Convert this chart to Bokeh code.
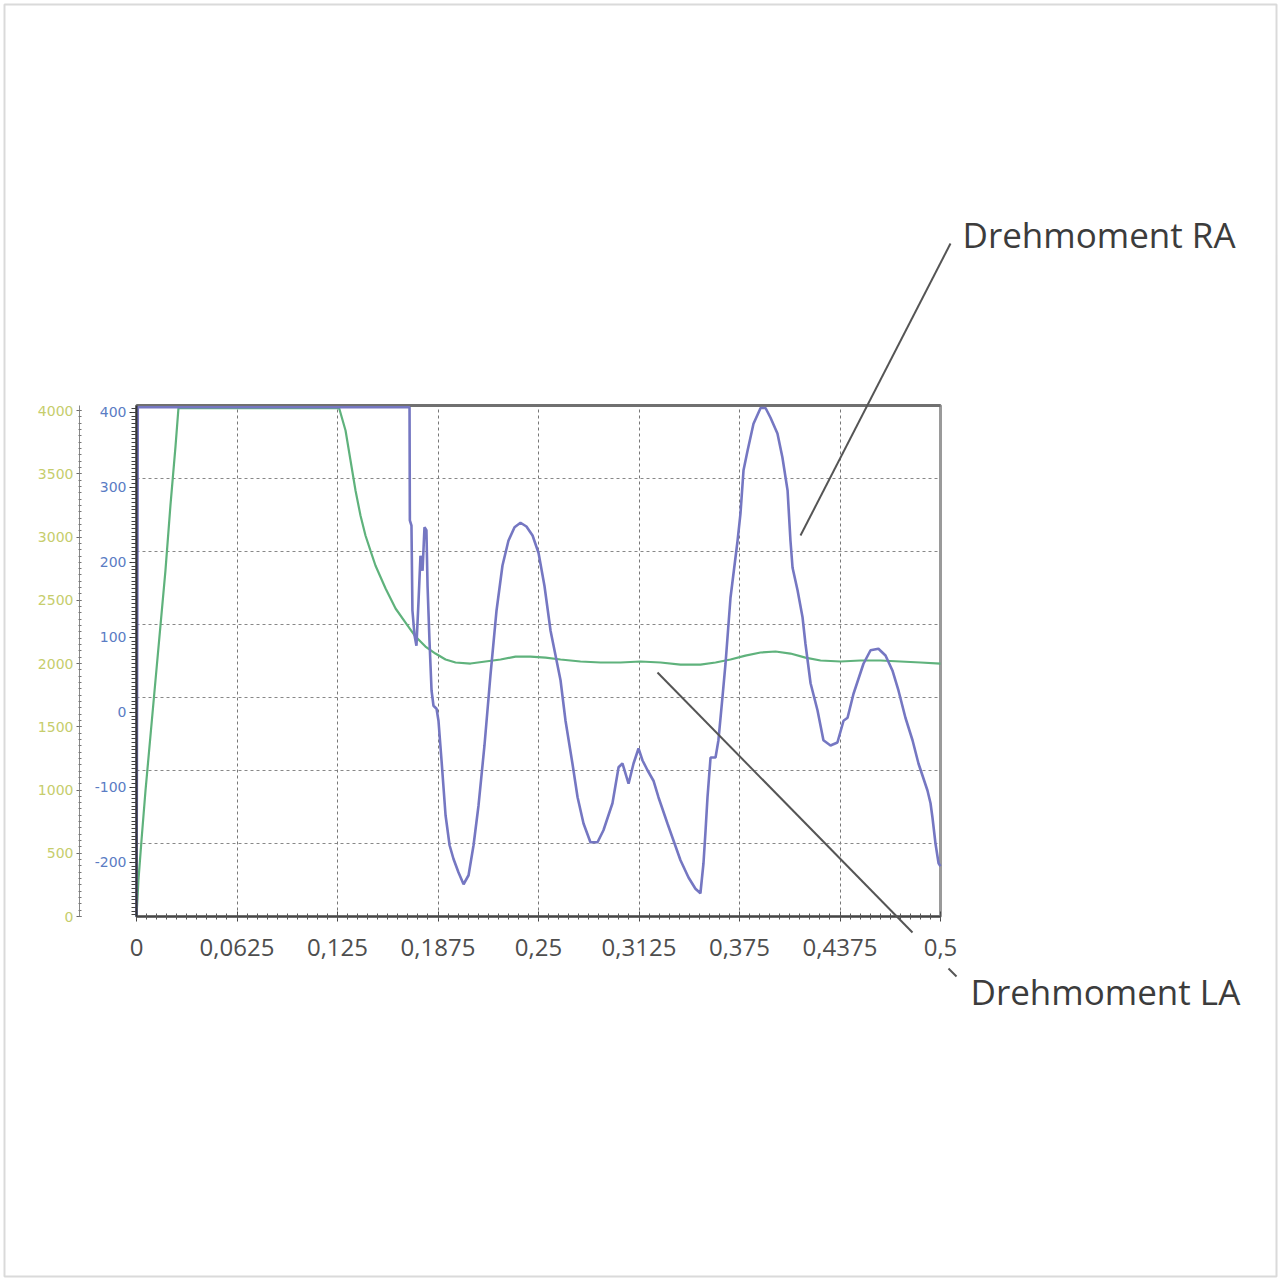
from bokeh.plotting import figure
from bokeh.models import Range1d, LinearAxis, FixedTicker, Label, Arrow, Grid, BoxAnnotation
from bokeh.embed import file_html
from bokeh.resources import INLINE

# ---------------- data ----------------
time_ra = [0.0000, 0.0008, 0.1690, 0.1698, 0.1700, 0.1710, 0.1716, 0.1729, 0.1741,
           0.1754, 0.1766, 0.1779, 0.1791, 0.1803, 0.1810, 0.1822, 0.1835, 0.1847,
           0.1866, 0.1878, 0.1897, 0.1922, 0.1947, 0.1971, 0.2002, 0.2034, 0.2065,
           0.2096, 0.2127, 0.2164, 0.2201, 0.2239, 0.2276, 0.2313, 0.2351, 0.2388,
           0.2425, 0.2463, 0.2500, 0.2537, 0.2575, 0.2637, 0.2668, 0.2711, 0.2743,
           0.2780, 0.2823, 0.2867, 0.2904, 0.2960, 0.2998, 0.3022, 0.3060, 0.3091,
           0.3122, 0.3147, 0.3178, 0.3215, 0.3246, 0.3302, 0.3340, 0.3383, 0.3433,
           0.3476, 0.3507, 0.3526, 0.3539, 0.3551, 0.3570, 0.3601, 0.3619, 0.3644,
           0.3663, 0.3694, 0.3738, 0.3756, 0.3775, 0.3800, 0.3837, 0.3881, 0.3912,
           0.3943, 0.3986, 0.4017, 0.4049, 0.4067, 0.4080, 0.4111, 0.4142, 0.4160,
           0.4192, 0.4235, 0.4272, 0.4316, 0.4359, 0.4397, 0.4422, 0.4459, 0.4521,
           0.4565, 0.4614, 0.4658, 0.4701, 0.4739, 0.4782, 0.4826, 0.4863, 0.4919,
           0.4938, 0.4950, 0.4969, 0.4988, 0.5000]
torque_ra = [-272, 407, 407, 407, 256, 249, 136, 103, 89,
             149, 209, 189, 247, 243, 169, 96, 29, 9,
             5, -11, -64, -137, -177, -195, -213, -229, -217,
             -177, -124, -44, 49, 136, 196, 229, 247, 253,
             248, 236, 213, 169, 109, 43, -11, -68, -113,
             -148, -173, -173, -157, -121, -73, -68, -95, -68,
             -48, -64, -77, -91, -113, -148, -171, -197, -220,
             -235, -241, -201, -157, -113, -60, -60, -37, 20,
             65, 153, 229, 265, 323, 349, 385, 406, 406,
             393, 372, 340, 296, 229, 193, 163, 127, 92,
             39, 3, -37, -44, -40, -11, -7, 25, 65,
             83, 85, 76, 56, 29, -7, -37, -68, -104,
             -121, -140, -175, -201, -205]

time_la = [0.0000, 0.0012, 0.0031, 0.0056, 0.0087, 0.0118, 0.0149, 0.0180, 0.0211,
           0.0243, 0.0261, 0.0274, 0.1260, 0.1300, 0.1331, 0.1362, 0.1393, 0.1424,
           0.1455, 0.1486, 0.1549, 0.1611, 0.1673, 0.1735, 0.1797, 0.1859, 0.1922,
           0.1984, 0.2077, 0.2170, 0.2264, 0.2357, 0.2450, 0.2544, 0.2637, 0.2761,
           0.2886, 0.3010, 0.3134, 0.3259, 0.3383, 0.3507, 0.3601, 0.3694, 0.3787,
           0.3881, 0.3974, 0.4067, 0.4160, 0.4254, 0.4378, 0.4502, 0.4627, 0.4751,
           0.4876, 0.5000]
torque_la = [0, 285, 601, 996, 1431, 1866, 2300, 2735, 3249,
             3723, 4020, 4020, 4020, 3842, 3605, 3368, 3170, 3012,
             2893, 2775, 2593, 2435, 2324, 2213, 2134, 2079, 2032,
             2008, 2000, 2016, 2032, 2055, 2055, 2047, 2032, 2016,
             2008, 2008, 2016, 2008, 1992, 1992, 2008, 2032, 2063,
             2087, 2095, 2079, 2047, 2024, 2016, 2024, 2024, 2016,
             2008, 2000]

x_ticks = [0, 0.0625, 0.125, 0.1875, 0.25, 0.3125, 0.375, 0.4375, 0.5]
x_tick_labels = ["0", "0,0625", "0,125", "0,1875", "0,25", "0,3125", "0,375", "0,4375", "0,5"]
ra_ticks = [-200, -100, 0, 100, 200, 300, 400]
ra_tick_labels = ["-200", "-100", "0", "100", "200", "300", "400"]
la_ticks = [0, 500, 1000, 1500, 2000, 2500, 3000, 3500, 4000]

X_MIN, X_MAX = 0.0, 0.5
RA_MIN, RA_MAX = -272.0, 409.3
LA_MIN, LA_MAX = 0.0, 4040.0

label_ra = "Drehmoment RA"
label_la = "Drehmoment LA"

# ---------------- layout (pixels) ----------------
W = H = 1280
BOX_L, BOX_R, BOX_T, BOX_B = 136, 940, 405, 916   # the chart box on the page


def t_at(px):
    return X_MIN + (px - BOX_L) * (X_MAX - X_MIN) / (BOX_R - BOX_L)


def ra_at(py):
    return RA_MAX - (py - BOX_T) * (RA_MAX - RA_MIN) / (BOX_B - BOX_T)


def la_at(py):
    return LA_MAX - (py - BOX_T) * (LA_MAX - LA_MIN) / (BOX_B - BOX_T)


p = figure(width=W, height=H, output_backend="svg", toolbar_location=None,
           x_range=Range1d(t_at(0), t_at(W)), y_range=Range1d(ra_at(H), ra_at(0)),
           x_axis_location=None, y_axis_location=None, min_border=0)
p.extra_y_ranges = {"la": Range1d(la_at(H), la_at(0))}
p.background_fill_color = "white"
p.border_fill_color = "white"
p.outline_line_color = None
for g in p.grid:
    g.visible = False

# page border
p.add_layout(BoxAnnotation(left=4, right=W - 4, bottom=4, top=H - 4,
                           left_units="screen", right_units="screen",
                           bottom_units="screen", top_units="screen",
                           fill_alpha=0, line_color="#dadada", line_alpha=1,
                           line_width=2, level="underlay"))

# grids
xg = Grid(dimension=0, ticker=FixedTicker(ticks=x_ticks[1:-1]),
          bounds=(X_MIN, X_MAX), cross_bounds=(RA_MIN, RA_MAX),
          grid_line_color="#777777", grid_line_dash="3 3", grid_line_width=1)
yg = Grid(dimension=1,
          ticker=FixedTicker(ticks=[RA_MIN + k * (RA_MAX - RA_MIN) / 7 for k in range(1, 7)]),
          bounds=(RA_MIN, RA_MAX), cross_bounds=(X_MIN, X_MAX),
          grid_line_color="#888888", grid_line_dash="3 3", grid_line_width=1)
p.add_layout(xg, "center")
p.add_layout(yg, "center")

# chart box: dark top edge, grey right edge
p.add_layout(BoxAnnotation(left=X_MIN, right=X_MAX, bottom=RA_MIN, top=RA_MAX,
                           fill_alpha=0, line_color="#9a9a9a", line_alpha=1,
                           line_width=3, level="underlay"))
p.add_layout(Arrow(start=None, end=None, x_start=X_MIN, y_start=RA_MAX, x_end=X_MAX, y_end=RA_MAX,
                   line_color="#707070", line_width=3, level="underlay"))

# x axis
xa = LinearAxis(fixed_location=RA_MIN, bounds=(X_MIN, X_MAX),
                ticker=FixedTicker(ticks=x_ticks, minor_ticks=[i * 0.00625 for i in range(81)]))
xa.major_label_overrides = {t: s for t, s in zip(x_ticks, x_tick_labels)}
xa.axis_line_color = "#444444"
xa.axis_line_width = 2
xa.major_tick_line_color = "#444444"
xa.minor_tick_line_color = "#555555"
xa.major_tick_in = 5
xa.major_tick_out = 5
xa.minor_tick_in = 3
xa.minor_tick_out = 3
xa.major_label_standoff = 17
xa.major_label_text_font = "Open Sans"
xa.major_label_text_font_size = "24px"
xa.major_label_text_color = "#4e4e4e"
p.add_layout(xa, "below")

# blue (RA) axis
ya = LinearAxis(fixed_location=X_MIN, bounds=(RA_MIN, RA_MAX),
                ticker=FixedTicker(ticks=ra_ticks, minor_ticks=list(range(-270, 410, 5))))
ya.major_label_overrides = {t: s for t, s in zip(ra_ticks, ra_tick_labels)}
ya.axis_line_color = "#333333"
ya.axis_line_width = 2
ya.major_tick_line_color = "#333333"
ya.minor_tick_line_color = "#444444"
ya.major_tick_in = 0
ya.major_tick_out = 7
ya.minor_tick_in = 0
ya.minor_tick_out = 5
ya.major_label_standoff = 3
ya.major_label_text_font = "DejaVu Sans"
ya.major_label_text_font_size = "14px"
ya.major_label_text_color = "#5a7cc4"
p.add_layout(ya, "left")

# green (LA) axis
ga = LinearAxis(y_range_name="la", fixed_location=t_at(79), bounds=(LA_MIN, LA_MAX),
                ticker=FixedTicker(ticks=la_ticks, minor_ticks=list(range(0, 4041, 50))))
ga.axis_line_color = "#888888"
ga.axis_line_width = 1
ga.major_tick_line_color = "#666666"
ga.minor_tick_line_color = "#777777"
ga.major_tick_in = 2
ga.major_tick_out = 3
ga.minor_tick_in = 2
ga.minor_tick_out = 1
ga.major_label_standoff = 3
ga.major_label_text_font = "DejaVu Sans"
ga.major_label_text_font_size = "14px"
ga.major_label_text_color = "#c6cd6c"
p.add_layout(ga, "left")

# curves
p.line(time_la, torque_la, y_range_name="la", line_color="#5fb27c", line_width=2.2)
p.line(time_ra, torque_ra, line_color="#7577c2", line_width=2.6)


# callouts
def callout(x0, y0, x1, y1):
    p.add_layout(Arrow(start=None, end=None,
                       x_start=t_at(x0), y_start=ra_at(y0), x_end=t_at(x1), y_end=ra_at(y1),
                       line_color="#555555", line_width=2))


callout(950, 243, 800, 535)
callout(657, 672, 912, 932)
callout(948, 968, 956, 976)
p.add_layout(Label(x=t_at(962), y=ra_at(234), text=label_ra,
                   text_font="Open Sans", text_font_size="35px", text_color="#3c3c3c",
                   text_baseline="alphabetic", text_align="left"))
p.add_layout(Label(x=t_at(970), y=ra_at(991), text=label_la,
                   text_font="Open Sans", text_font_size="35px", text_color="#3c3c3c",
                   text_baseline="alphabetic", text_align="left"))

open("out.html", "w").write(file_html(p, INLINE))
